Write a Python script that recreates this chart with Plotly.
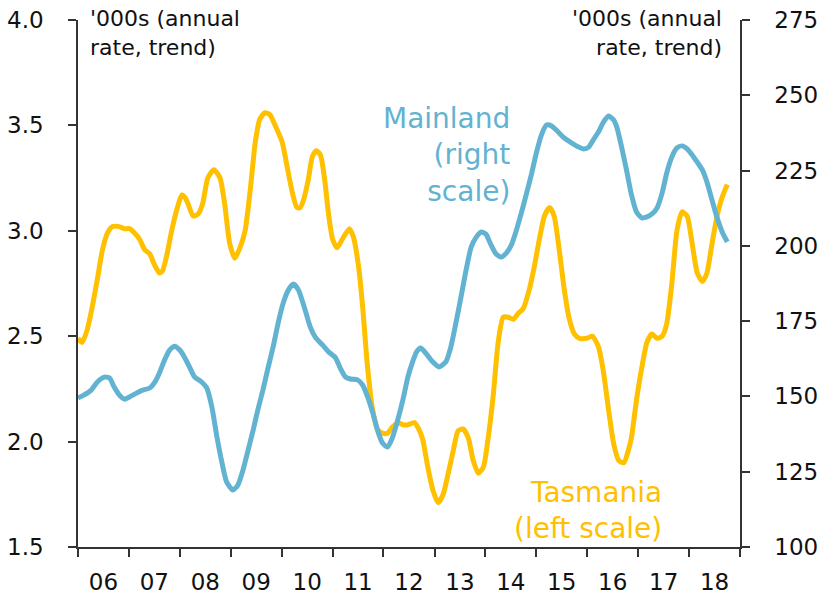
import plotly.graph_objects as go
from datetime import datetime, timedelta

# Tasmania (left scale), '000s annual rate, trend
tas_years = [2006.00, 2006.08, 2006.18, 2006.28, 2006.38, 2006.48, 2006.58, 2006.68, 2006.81, 2006.91,
             2007.01, 2007.11, 2007.21, 2007.31, 2007.41, 2007.50, 2007.60, 2007.66, 2007.74, 2007.84,
             2007.94, 2008.04, 2008.10, 2008.16, 2008.26, 2008.36, 2008.45, 2008.55, 2008.67, 2008.79,
             2008.88, 2008.98, 2009.08, 2009.18, 2009.28, 2009.38, 2009.48, 2009.57, 2009.67, 2009.77,
             2009.87, 2010.01, 2010.11, 2010.21, 2010.30, 2010.36, 2010.42, 2010.52, 2010.60, 2010.68,
             2010.76, 2010.84, 2010.92, 2011.00, 2011.09, 2011.19, 2011.33, 2011.41, 2011.51, 2011.59,
             2011.68, 2011.78, 2011.88, 2011.98, 2012.08, 2012.18, 2012.28, 2012.38, 2012.48, 2012.61,
             2012.69, 2012.77, 2012.87, 2012.97, 2013.07, 2013.17, 2013.27, 2013.37, 2013.46, 2013.56,
             2013.66, 2013.76, 2013.86, 2013.96, 2014.05, 2014.15, 2014.25, 2014.35, 2014.45, 2014.55,
             2014.65, 2014.74, 2014.86, 2014.96, 2015.06, 2015.16, 2015.26, 2015.35, 2015.45, 2015.55,
             2015.65, 2015.75, 2015.85, 2015.99, 2016.10, 2016.22, 2016.32, 2016.42, 2016.52, 2016.62,
             2016.72, 2016.81, 2016.87, 2016.97, 2017.07, 2017.17, 2017.27, 2017.37, 2017.47, 2017.56,
             2017.66, 2017.76, 2017.86, 2017.96, 2018.06, 2018.16, 2018.26, 2018.35, 2018.45, 2018.55,
             2018.65, 2018.75]
tas_values = [2.49, 2.47, 2.53, 2.64, 2.77, 2.91, 2.99, 3.02, 3.02, 3.01,
              3.01, 2.99, 2.96, 2.91, 2.89, 2.84, 2.80, 2.81, 2.88, 3.00,
              3.10, 3.17, 3.16, 3.13, 3.07, 3.08, 3.13, 3.25, 3.29, 3.25,
              3.13, 2.94, 2.87, 2.92, 3.00, 3.19, 3.42, 3.53, 3.56, 3.55,
              3.50, 3.42, 3.30, 3.18, 3.11, 3.11, 3.14, 3.24, 3.35, 3.38,
              3.36, 3.25, 3.08, 2.96, 2.92, 2.96, 3.01, 2.97, 2.83, 2.64,
              2.37, 2.16, 2.06, 2.04, 2.04, 2.07, 2.09, 2.08, 2.08, 2.09,
              2.06, 2.01, 1.88, 1.77, 1.71, 1.75, 1.85, 1.96, 2.05, 2.06,
              2.02, 1.91, 1.85, 1.88, 2.01, 2.21, 2.47, 2.59, 2.59, 2.58,
              2.61, 2.63, 2.72, 2.83, 2.96, 3.07, 3.11, 3.07, 2.91, 2.72,
              2.58, 2.51, 2.49, 2.49, 2.50, 2.45, 2.33, 2.15, 1.99, 1.91,
              1.90, 1.96, 2.02, 2.20, 2.35, 2.47, 2.51, 2.49, 2.50, 2.56,
              2.75, 3.00, 3.09, 3.07, 2.94, 2.80, 2.76, 2.80, 2.94, 3.07,
              3.16, 3.22]

# Mainland (right scale), '000s annual rate, trend
main_years = [2006.00, 2006.12, 2006.26, 2006.38, 2006.52, 2006.62, 2006.71, 2006.81, 2006.91, 2007.01,
              2007.15, 2007.27, 2007.41, 2007.50, 2007.60, 2007.70, 2007.80, 2007.90, 2008.00, 2008.10,
              2008.19, 2008.29, 2008.43, 2008.53, 2008.63, 2008.73, 2008.83, 2008.92, 2009.04, 2009.14,
              2009.24, 2009.34, 2009.44, 2009.53, 2009.63, 2009.73, 2009.83, 2009.93, 2010.03, 2010.13,
              2010.23, 2010.33, 2010.46, 2010.56, 2010.66, 2010.80, 2010.92, 2011.06, 2011.15, 2011.25,
              2011.35, 2011.49, 2011.59, 2011.69, 2011.79, 2011.88, 2011.98, 2012.08, 2012.18, 2012.28,
              2012.38, 2012.48, 2012.57, 2012.65, 2012.73, 2012.83, 2012.97, 2013.09, 2013.22, 2013.32,
              2013.42, 2013.52, 2013.62, 2013.72, 2013.82, 2013.92, 2014.01, 2014.11, 2014.21, 2014.31,
              2014.41, 2014.51, 2014.61, 2014.71, 2014.80, 2014.90, 2015.00, 2015.10, 2015.20, 2015.30,
              2015.43, 2015.55, 2015.69, 2015.83, 2015.93, 2016.03, 2016.12, 2016.22, 2016.32, 2016.42,
              2016.52, 2016.58, 2016.68, 2016.78, 2016.87, 2016.97, 2017.07, 2017.17, 2017.27, 2017.37,
              2017.47, 2017.56, 2017.66, 2017.76, 2017.86, 2017.96, 2018.06, 2018.16, 2018.26, 2018.35,
              2018.45, 2018.55, 2018.65, 2018.75]
main_values = [149.5, 150.5, 152.1, 154.8, 156.4, 156.1, 153.1, 150.5, 149.1, 149.8,
               151.1, 152.1, 152.8, 154.5, 157.8, 162.1, 165.4, 166.7, 165.4, 162.8,
               159.8, 156.5, 154.8, 152.8, 146.5, 136.5, 127.9, 121.6, 118.9, 120.6,
               125.6, 132.2, 138.9, 145.5, 152.1, 159.4, 166.4, 174.4, 181.0, 185.3,
               187.3, 185.3, 178.7, 173.1, 169.7, 167.1, 164.8, 162.8, 159.4, 156.5,
               155.8, 155.5, 153.8, 149.8, 144.5, 138.9, 134.5, 133.2, 136.5, 142.2,
               148.8, 156.5, 161.4, 164.8, 166.1, 164.4, 161.4, 159.8, 161.4, 166.4,
               174.4, 183.0, 192.0, 199.6, 202.9, 204.6, 203.9, 200.3, 197.3, 196.3,
               197.6, 200.3, 205.3, 211.2, 216.9, 223.5, 230.8, 236.8, 240.1, 239.8,
               237.8, 235.8, 234.2, 232.8, 232.2, 232.8, 235.2, 237.8, 241.1, 243.1,
               241.8, 239.5, 232.5, 224.5, 216.9, 211.2, 209.3, 209.6, 210.6, 212.6,
               217.6, 224.2, 229.5, 232.5, 233.2, 232.2, 230.2, 227.8, 225.2, 221.2,
               215.2, 209.3, 204.6, 201.3]

left_ticks = [1.5, 2.0, 2.5, 3.0, 3.5, 4.0]
right_ticks = [100, 125, 150, 175, 200, 225, 250, 275]

TAS_COLOR = "#FFC000"
MAIN_COLOR = "#62B2D1"
FONT = "DejaVu Sans"


def to_date(y):
    yr = int(y)
    return datetime(yr, 1, 1) + timedelta(days=(y - yr) * 365.25)


tas_dates = [to_date(y) for y in tas_years]
main_dates = [to_date(y) for y in main_years]

fig = go.Figure()
fig.add_trace(go.Scatter(x=tas_dates, y=tas_values, mode="lines", name="Tasmania",
                         line=dict(color=TAS_COLOR, width=5, shape="spline", smoothing=0.6),
                         yaxis="y"))
fig.add_trace(go.Scatter(x=main_dates, y=main_values, mode="lines", name="Mainland",
                         line=dict(color=MAIN_COLOR, width=5, shape="spline", smoothing=0.6),
                         yaxis="y2"))

axis_common = dict(showgrid=False, zeroline=False, showline=True, linecolor="#333333",
                   linewidth=1.5, ticks="outside", ticklen=8, tickwidth=1.5, tickcolor="#333333",
                   automargin=False,
                   tickfont=dict(family=FONT, size=23, color="#111111"))

fig.update_layout(
    width=819, height=600,
    margin=dict(l=78, r=79, t=20, b=53),
    paper_bgcolor="white", plot_bgcolor="white",
    showlegend=False,
    font=dict(family=FONT, color="#111111"),
    xaxis=dict(type="date", range=[datetime(2006, 1, 1), datetime(2019, 1, 1)],
               dtick="M12", tick0="2006-01-01", tickformat="%y", ticklabelmode="period",
               ticklabelstandoff=6, **axis_common),
    yaxis=dict(range=[1.5, 4.0], tickvals=left_ticks, tickformat=".1f",
               ticklabelstandoff=20, **axis_common),
    yaxis2=dict(range=[100, 275], tickvals=right_ticks, overlaying="y", side="right",
                ticklabelstandoff=20, **axis_common),
)

fig.add_annotation(xref="paper", yref="paper", x=0.015, y=1.03, xanchor="left", yanchor="top",
                   text="'000s (annual<br>rate, trend)", showarrow=False, align="left",
                   font=dict(family=FONT, size=22, color="#111111"))
fig.add_annotation(xref="paper", yref="paper", x=0.976, y=1.03, xanchor="right", yanchor="top",
                   text="'000s (annual<br>rate, trend)", showarrow=False, align="right",
                   font=dict(family=FONT, size=22, color="#111111"))
fig.add_annotation(xref="paper", yref="paper", x=0.656, y=0.848, xanchor="right", yanchor="top",
                   text="Mainland<br>(right<br>scale)", showarrow=False, align="right",
                   font=dict(family=FONT, size=28, color=MAIN_COLOR))
fig.add_annotation(xref="paper", yref="paper", x=0.885, y=0.139, xanchor="right", yanchor="top",
                   text="Tasmania<br>(left scale)", showarrow=False, align="right",
                   font=dict(family=FONT, size=28, color=TAS_COLOR))

fig.write_html("out.html", config={"displayModeBar": False},
               post_script="document.body.style.margin='0';")
